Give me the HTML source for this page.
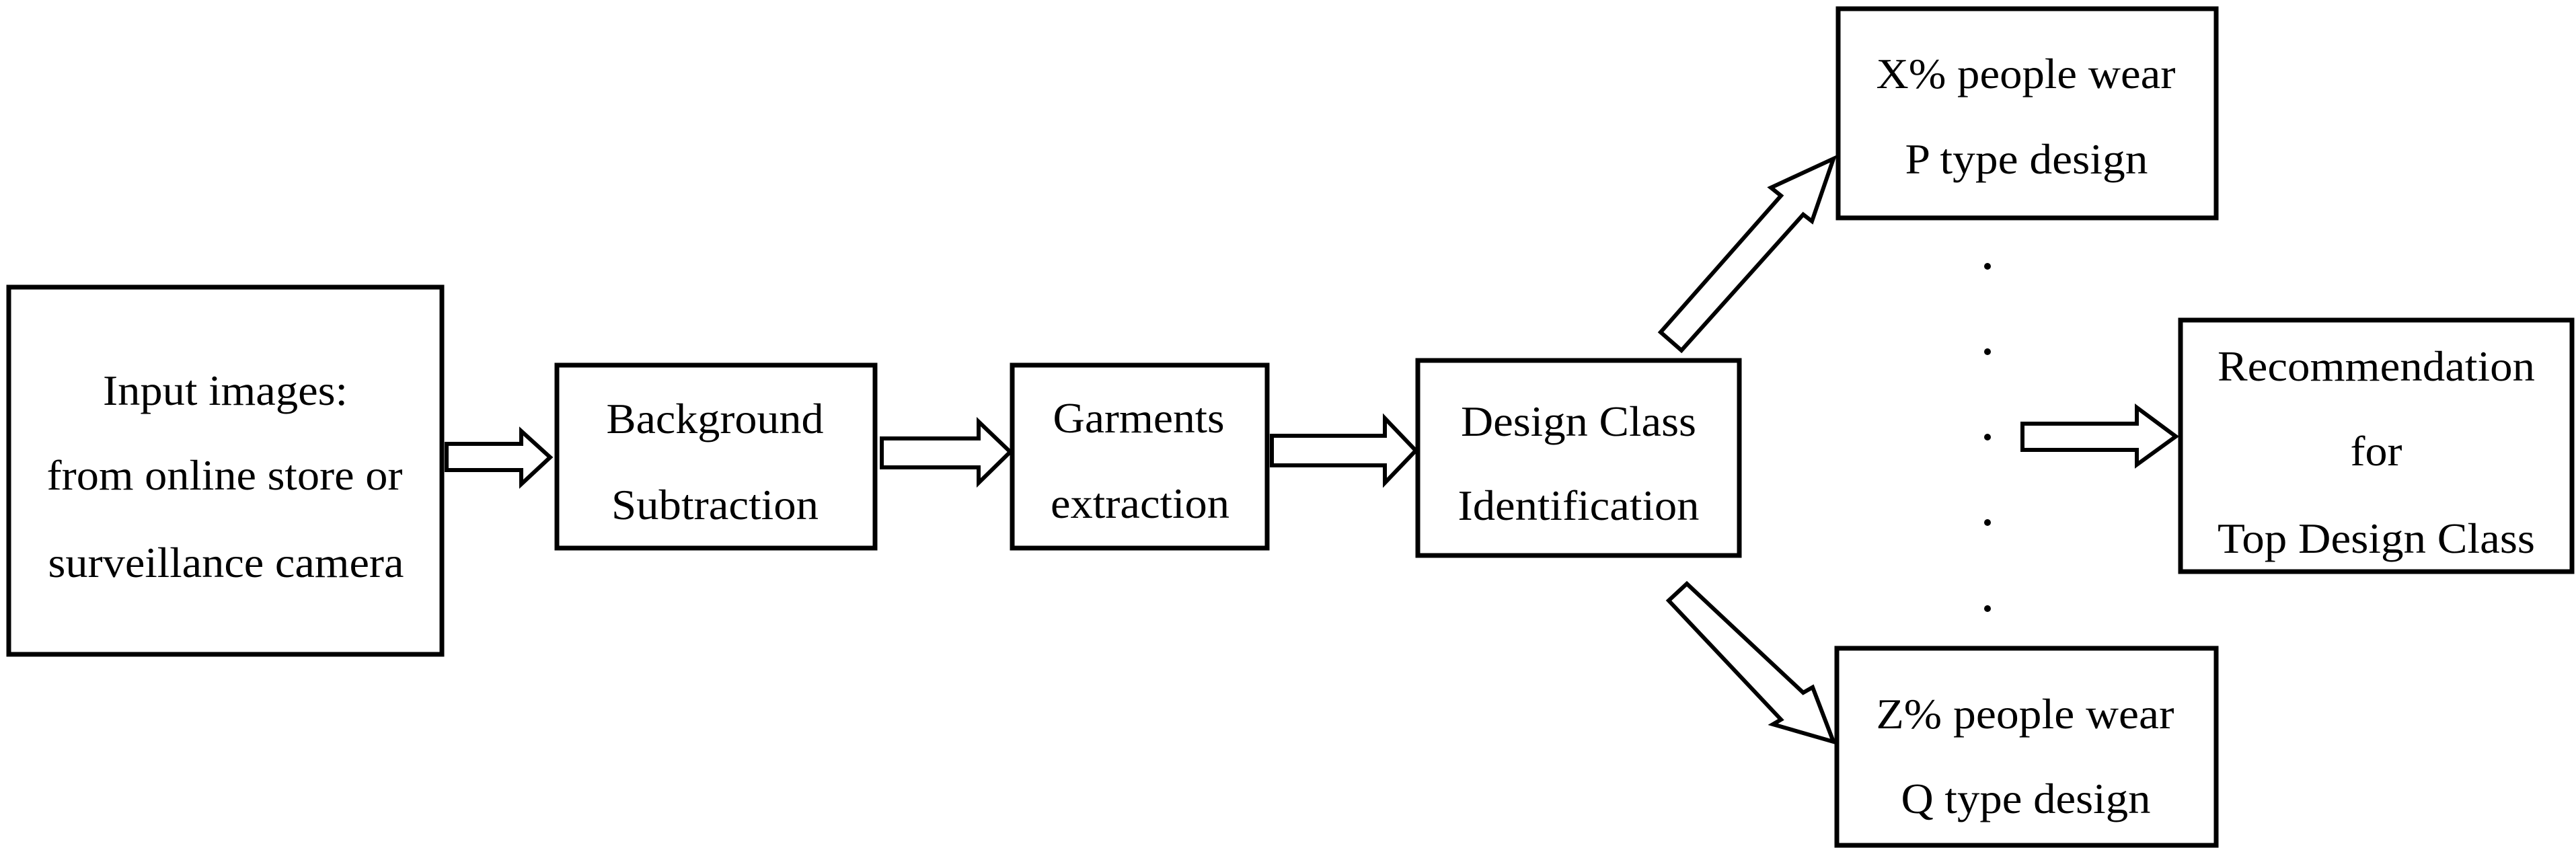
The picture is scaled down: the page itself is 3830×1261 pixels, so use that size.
<!DOCTYPE html>
<html><head><meta charset="utf-8"><style>
html,body{margin:0;padding:0;background:#fff;}
svg{display:block;}
text{font-family:"Liberation Serif",serif;font-size:64px;fill:#000;text-anchor:middle;}
</style></head><body>
<svg width="3830" height="1261" viewBox="0 0 3830 1261" xmlns="http://www.w3.org/2000/svg">
<g fill="none" stroke="#000" stroke-width="7">
<rect x="13" y="427" width="644" height="546"/>
<rect x="828" y="543" width="473" height="272"/>
<rect x="1505" y="543" width="379" height="272"/>
<rect x="2108" y="536" width="478" height="290"/>
<rect x="2733" y="13" width="562" height="311"/>
<rect x="2731" y="964" width="564" height="293"/>
<rect x="3242" y="476" width="582" height="374"/>
</g>
<g fill="#fff" stroke="#000" stroke-width="6" stroke-linejoin="miter">
<polygon points="664,660 775,660 775,641 818,680 775,720 775,699 664,699"/>
<polygon points="1311,652 1455,652 1455,627 1502,672 1455,718 1455,695 1311,695"/>
<polygon points="1891,648 2059,648 2059,622 2105,670 2059,718 2059,692 1891,692"/>
<polygon points="3007,630 3177,630 3177,606 3235,649 3177,691 3177,669 3007,669"/>
<polygon points="2469,494 2648,291 2633,279 2726,236 2694,329 2681,319 2500,521"/>
<polygon points="2508,868 2681,1030 2695,1022 2726,1103 2636,1077 2648,1070 2481,893"/>
</g>
<g fill="#000">
<circle cx="2955" cy="396" r="5"/>
<circle cx="2955" cy="523" r="5"/>
<circle cx="2955" cy="650" r="5"/>
<circle cx="2955" cy="777" r="5"/>
<circle cx="2955" cy="905" r="5"/>
</g>
<text x="335" y="602" textLength="364" lengthAdjust="spacingAndGlyphs">Input images:</text>
<text x="334" y="728" textLength="529" lengthAdjust="spacingAndGlyphs">from online store or</text>
<text x="336" y="858" textLength="529" lengthAdjust="spacingAndGlyphs">surveillance camera</text>
<text x="1063" y="644" textLength="323" lengthAdjust="spacingAndGlyphs">Background</text>
<text x="1063" y="772" textLength="308" lengthAdjust="spacingAndGlyphs">Subtraction</text>
<text x="1693" y="643" textLength="255" lengthAdjust="spacingAndGlyphs">Garments</text>
<text x="1695" y="770" textLength="266" lengthAdjust="spacingAndGlyphs">extraction</text>
<text x="2347" y="648" textLength="350" lengthAdjust="spacingAndGlyphs">Design Class</text>
<text x="2347" y="773" textLength="359" lengthAdjust="spacingAndGlyphs">Identification</text>
<text x="3012" y="131" textLength="445" lengthAdjust="spacingAndGlyphs">X% people wear</text>
<text x="3013" y="258" textLength="361" lengthAdjust="spacingAndGlyphs">P type design</text>
<text x="3011" y="1083" textLength="443" lengthAdjust="spacingAndGlyphs">Z% people wear</text>
<text x="3012" y="1209" textLength="371" lengthAdjust="spacingAndGlyphs">Q type design</text>
<text x="3533" y="566" textLength="472" lengthAdjust="spacingAndGlyphs">Recommendation</text>
<text x="3533" y="692" textLength="77" lengthAdjust="spacingAndGlyphs">for</text>
<text x="3533" y="822" textLength="472" lengthAdjust="spacingAndGlyphs">Top Design Class</text>
</svg>
</body></html>
